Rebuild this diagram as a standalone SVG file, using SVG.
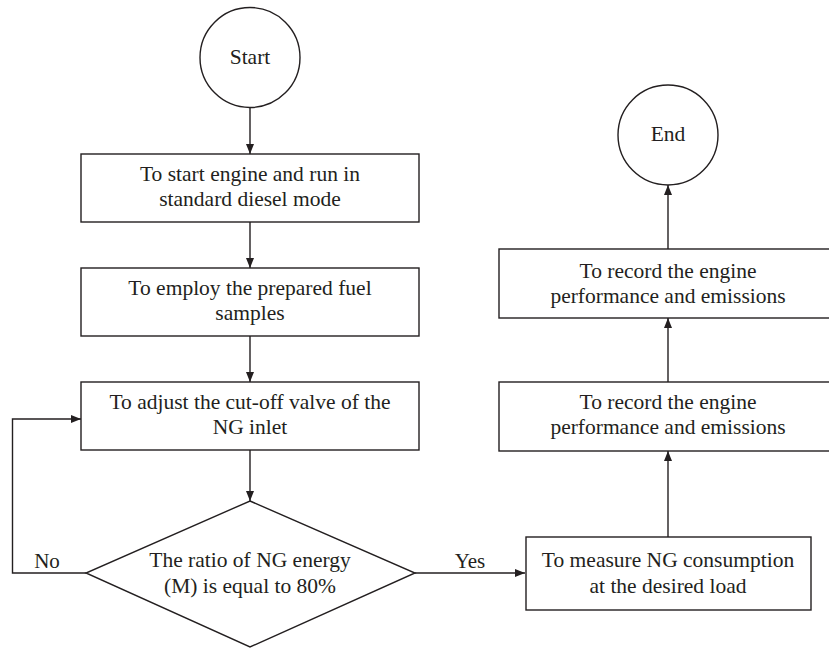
<svg xmlns="http://www.w3.org/2000/svg" width="829" height="648" viewBox="0 0 829 648">
<style>
.s{fill:#fff;stroke:#231f20;stroke-width:1.4}
.c{fill:none;stroke:#231f20;stroke-width:1.4}
.t{font-family:"Liberation Serif","Times New Roman",serif;font-size:21.5px;fill:#231f20;text-anchor:middle}
.l{font-family:"Liberation Serif","Times New Roman",serif;font-size:21px;fill:#231f20;text-anchor:middle}
</style>
<defs>
<marker id="ah" viewBox="0 0 10 8" refX="10" refY="4" markerWidth="10" markerHeight="8" markerUnits="userSpaceOnUse" orient="auto">
<path d="M0,0 L10,4 L0,8 Z" fill="#231f20"/>
</marker>
</defs>
<rect width="829" height="648" fill="#fff"/>
<g id="connectors">
<line class="c" x1="250" y1="108" x2="250" y2="154" marker-end="url(#ah)"/>
<line class="c" x1="250" y1="222" x2="250" y2="268" marker-end="url(#ah)"/>
<line class="c" x1="250" y1="336" x2="250" y2="382" marker-end="url(#ah)"/>
<line class="c" x1="250" y1="450" x2="250" y2="501" marker-end="url(#ah)"/>
<polyline class="c" points="86,573 12.5,573 12.5,419 81,419" marker-end="url(#ah)"/>
<line class="c" x1="415" y1="573" x2="525" y2="573" marker-end="url(#ah)"/>
<line class="c" x1="668" y1="537" x2="668" y2="451" marker-end="url(#ah)"/>
<line class="c" x1="668" y1="382" x2="668" y2="318" marker-end="url(#ah)"/>
<line class="c" x1="668" y1="249" x2="668" y2="185" marker-end="url(#ah)"/>
<text class="l" x="47" y="568">No</text>
<text class="l" x="470" y="568">Yes</text>
</g>
<g id="start">
<circle class="s" cx="250" cy="57.5" r="50"/>
<text class="t" x="250" y="64">Start</text>
</g>
<g id="box1">
<rect class="s" x="81" y="154" width="338" height="68"/>
<text class="t" x="250" y="181">To start engine and run in</text>
<text class="t" x="250" y="206">standard diesel mode</text>
</g>
<g id="box2">
<rect class="s" x="81" y="268" width="338" height="68"/>
<text class="t" x="250" y="295">To employ the prepared fuel</text>
<text class="t" x="250" y="320">samples</text>
</g>
<g id="box3">
<rect class="s" x="81" y="382" width="338" height="68"/>
<text class="t" x="250" y="409">To adjust the cut-off valve of the</text>
<text class="t" x="250" y="434">NG inlet</text>
</g>
<g id="decision">
<polygon class="s" points="250,501 415,573 250,647 86,573"/>
<text class="t" x="250" y="567">The ratio of NG energy</text>
<text class="t" x="250" y="593">(M) is equal to 80%</text>
</g>
<g id="box4">
<rect class="s" x="526" y="537" width="285" height="73"/>
<text class="t" x="668" y="567">To measure NG consumption</text>
<text class="t" x="668" y="593">at the desired load</text>
</g>
<g id="box5">
<rect class="s" x="499" y="382" width="340" height="69"/>
<text class="t" x="668" y="409">To record the engine</text>
<text class="t" x="668" y="434">performance and emissions</text>
</g>
<g id="box6">
<rect class="s" x="499" y="249" width="340" height="69"/>
<text class="t" x="668" y="278">To record the engine</text>
<text class="t" x="668" y="303">performance and emissions</text>
</g>
<g id="end">
<circle class="s" cx="668" cy="135" r="50"/>
<text class="t" x="668" y="141">End</text>
</g>
</svg>
